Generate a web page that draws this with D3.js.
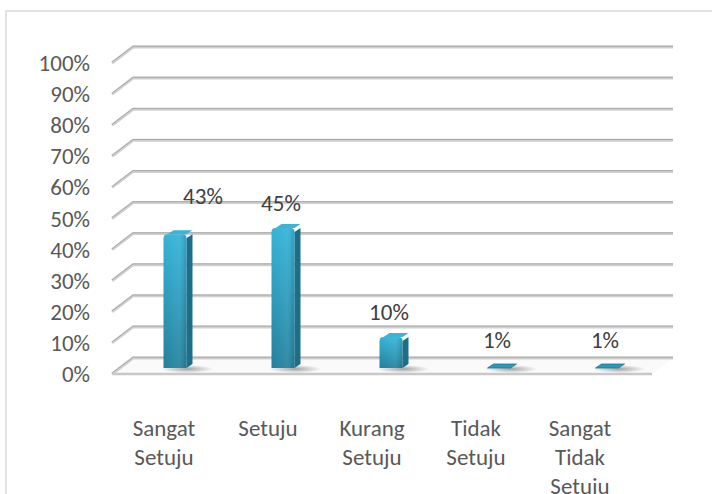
<!DOCTYPE html>
<html><head><meta charset="utf-8">
<script src="https://cdn.jsdelivr.net/npm/d3@7"></script>
<style>
html,body{margin:0;padding:0;background:#fff;}
svg text{font-family:Carlito,Lato,"Open Sans",sans-serif;}
</style>
</head><body>
<svg id="c" width="712" height="494"></svg>
<script>
const categories = [["Sangat","Setuju"],["Setuju"],["Kurang","Setuju"],["Tidak","Setuju"],["Sangat","Tidak","Setuju"]];
const values = [43, 45, 10, 1, 1];
const valueLabels = ["43%","45%","10%","1%","1%"];
const ticks = [0,10,20,30,40,50,60,70,80,90,100];

const FS = 23;
const svg = d3.select("#c");
const defs = svg.append("defs");

// chart frame
svg.append("rect").attr("x",6).attr("y",11).attr("width",720).attr("height",500)
  .attr("fill","#fff").attr("stroke","#d9d9d9").attr("stroke-width",1.5);

const depthX = 21, depthY = 16;
const frontLeft = 112, frontRight = 652;
const y = d3.scaleLinear().domain([0,100]).range([358,47]); // back wall
const x = d3.scaleBand().domain(d3.range(values.length)).range([frontLeft, frontRight]);
const xl = d3.scaleBand().domain(d3.range(values.length)).range([frontLeft, 632]);

// floor
const g0 = y(0);
svg.append("path")
  .attr("d",`M${frontLeft},${g0+depthY}L${frontLeft+depthX},${g0}L${frontRight+depthX},${g0}L${frontRight},${g0+depthY}Z`)
  .attr("fill","#fafafa").attr("stroke","none");
svg.append("line").attr("x1",frontLeft).attr("x2",frontRight).attr("y1",g0+depthY).attr("y2",g0+depthY)
  .attr("stroke","#c8c8c8").attr("stroke-width",2.5);

// gridlines with depth segment
ticks.forEach(t => {
  const yy = y(t);
  const d = `M${frontLeft},${yy+depthY}L${frontLeft+depthX},${yy}L${frontRight+depthX},${yy}`;
  svg.append("path").attr("d",d).attr("fill","none").attr("stroke","#cfcfcf").attr("stroke-width",3);
  svg.append("path").attr("d",d).attr("fill","none").attr("stroke","#a9a9a9").attr("stroke-width",1)
    .attr("transform","translate(0,-0.8)");
});

// y-axis labels
svg.append("g").selectAll("text").data(ticks).join("text")
  .attr("x",90).attr("y",d=>y(d)+depthY).attr("dy","0.35em")
  .attr("text-anchor","end").attr("font-size",FS).attr("fill","#595959")
  .text(d=>d+"%");

// gradients
const gf = defs.append("linearGradient").attr("id","front").attr("x1",0).attr("x2",0).attr("y1",0).attr("y2",1);
gf.append("stop").attr("offset","0%").attr("stop-color","#33b3d8");
gf.append("stop").attr("offset","100%").attr("stop-color","#23819d");
const gh = defs.append("linearGradient").attr("id","front2").attr("x1",0).attr("x2",1).attr("y1",0).attr("y2",0);
gh.append("stop").attr("offset","0%").attr("stop-color","#ffffff").attr("stop-opacity",0.0);
gh.append("stop").attr("offset","70%").attr("stop-color","#ffffff").attr("stop-opacity",0.08);
gh.append("stop").attr("offset","100%").attr("stop-color","#000000").attr("stop-opacity",0.12);
const gs = defs.append("radialGradient").attr("id","shadow");
gs.append("stop").attr("offset","0%").attr("stop-color","#000").attr("stop-opacity",0.35);
gs.append("stop").attr("offset","100%").attr("stop-color","#000").attr("stop-opacity",0);

// bars
const barW = 23, sideW = 6, sideH = 4;
const baseY = y(0) + 10;
const pxPer = (y(0) - y(100)) / 100;
const bars = svg.append("g");
values.forEach((v,i) => {
  const cx = x(i) + x.bandwidth()/2 + 9;
  const x0 = cx - barW/2, x1 = cx + barW/2;
  const top = baseY - v*pxPer;
  const h = baseY - top;
  const r = Math.min(4, h/2);
  bars.append("ellipse").attr("cx",cx+12).attr("cy",baseY+1).attr("rx",26).attr("ry",4)
    .attr("fill","url(#shadow)");
  if (h < 6) {
    bars.append("path")
      .attr("d",`M${x0},${baseY}L${x1},${baseY}L${x1+sideW},${baseY-sideH}L${x0+sideW},${baseY-sideH}Z`)
      .attr("fill","#2a98ba").attr("stroke","#1f7590").attr("stroke-width",0.8);
    return;
  }
  bars.append("path")
    .attr("d",`M${x1},${baseY}L${x1},${top+r}L${x1+sideW},${top+r-sideH}L${x1+sideW},${baseY-sideH}Z`)
    .attr("fill","#1d6f87");
  bars.append("path")
    .attr("d",`M${x0+r},${top}L${x1},${top}L${x1+sideW},${top-sideH}L${x0+sideW+r},${top-sideH}Z`)
    .attr("fill","#3bb5d6");
  const fp = `M${x0},${baseY}L${x0},${top+r}Q${x0},${top} ${x0+r},${top}L${x1-r},${top}Q${x1},${top} ${x1},${top+r}L${x1},${baseY}Z`;
  bars.append("path").attr("d",fp).attr("fill","url(#front)");
  bars.append("path").attr("d",fp).attr("fill","url(#front2)");
});

// value labels
const labelNudge = [[30,-13],[0,0],[0,0],[0,0],[0,0]];
svg.append("g").selectAll("text").data(values).join("text")
  .attr("x",(d,i)=>x(i)+x.bandwidth()/2 + 7 + labelNudge[i][0])
  .attr("y",(d,i)=>Math.min(baseY - d*pxPer - 25, baseY - 25) + labelNudge[i][1])
  .attr("dy","0.35em").attr("text-anchor","middle")
  .attr("font-size",FS).attr("fill","#404040")
  .text((d,i)=>valueLabels[i]);

// category labels
const cl = svg.append("g");
categories.forEach((lines,i) => {
  const t = cl.append("text").attr("text-anchor","middle").attr("font-size",FS).attr("fill","#595959");
  lines.forEach((ln,j) => {
    t.append("tspan").attr("x", xl(i)+xl.bandwidth()/2).attr("y", 428 + j*29).attr("dy","0.35em").text(ln);
  });
});
</script>
</body></html>
